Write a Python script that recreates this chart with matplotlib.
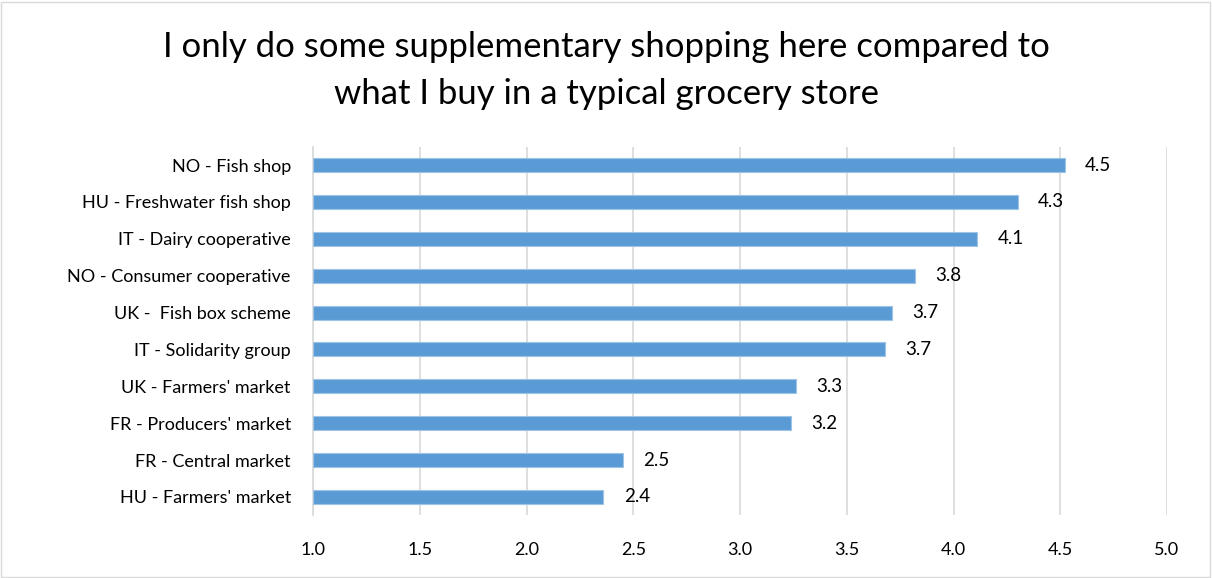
import matplotlib.pyplot as plt
from matplotlib.patches import Rectangle

categories = ["NO - Fish shop", "HU - Freshwater fish shop", "IT - Dairy cooperative",
              "NO - Consumer cooperative", "UK -  Fish box scheme", "IT - Solidarity group",
              "UK - Farmers' market", "FR - Producers' market", "FR - Central market",
              "HU - Farmers' market"]
values = [4.52, 4.30, 4.11, 3.82, 3.71, 3.68, 3.26, 3.24, 2.45, 2.36]
xticks = [1.0, 1.5, 2.0, 2.5, 3.0, 3.5, 4.0, 4.5, 5.0]

plt.rcParams['font.family'] = ['Lato', 'DejaVu Sans']

fig = plt.figure(figsize=(12.12, 5.78), dpi=100)
ax = fig.add_axes([0.2583, 0.1083, 0.7046, 0.6381])

ypos = list(range(len(categories)))[::-1]
ax.barh(ypos, [v - 1.0 for v in values], left=1.0, height=0.38,
        color="#5B9BD5", edgecolor="#9DC3E6", linewidth=0.8, zorder=3)
for y, v in zip(ypos, values):
    ax.text(v + 0.095, y, "{:.1f}".format(v), va="center", ha="left",
            fontsize=13.5, color="#000000")

ax.set_xlim(1.0, 5.0)
ax.set_ylim(-0.5, len(categories) - 0.5)
ax.set_xticks(xticks)
ax.set_xticklabels(["{:.1f}".format(t) for t in xticks], fontsize=13)
ax.set_yticks(ypos)
ax.set_yticklabels(categories, fontsize=13)
ax.tick_params(axis="y", length=0, pad=16)
ax.tick_params(axis="x", length=0, pad=19)
ax.grid(axis="x", color="#D9D9D9", linewidth=1.2, zorder=0)
for s in ["top", "right", "bottom"]:
    ax.spines[s].set_visible(False)
ax.spines["left"].set_color("#D9D9D9")
ax.spines["left"].set_linewidth(1.2)

fig.text(0.5, 0.918, "I only do some supplementary shopping here compared to",
         ha="center", va="center", fontsize=25)
fig.text(0.5, 0.838, "what I buy in a typical grocery store",
         ha="center", va="center", fontsize=25)

fig.add_artist(Rectangle((0.001, 0.002), 0.997, 0.995, transform=fig.transFigure,
                         fill=False, edgecolor="#D9D9D9", linewidth=1))

fig.savefig("out.png", dpi=100)
